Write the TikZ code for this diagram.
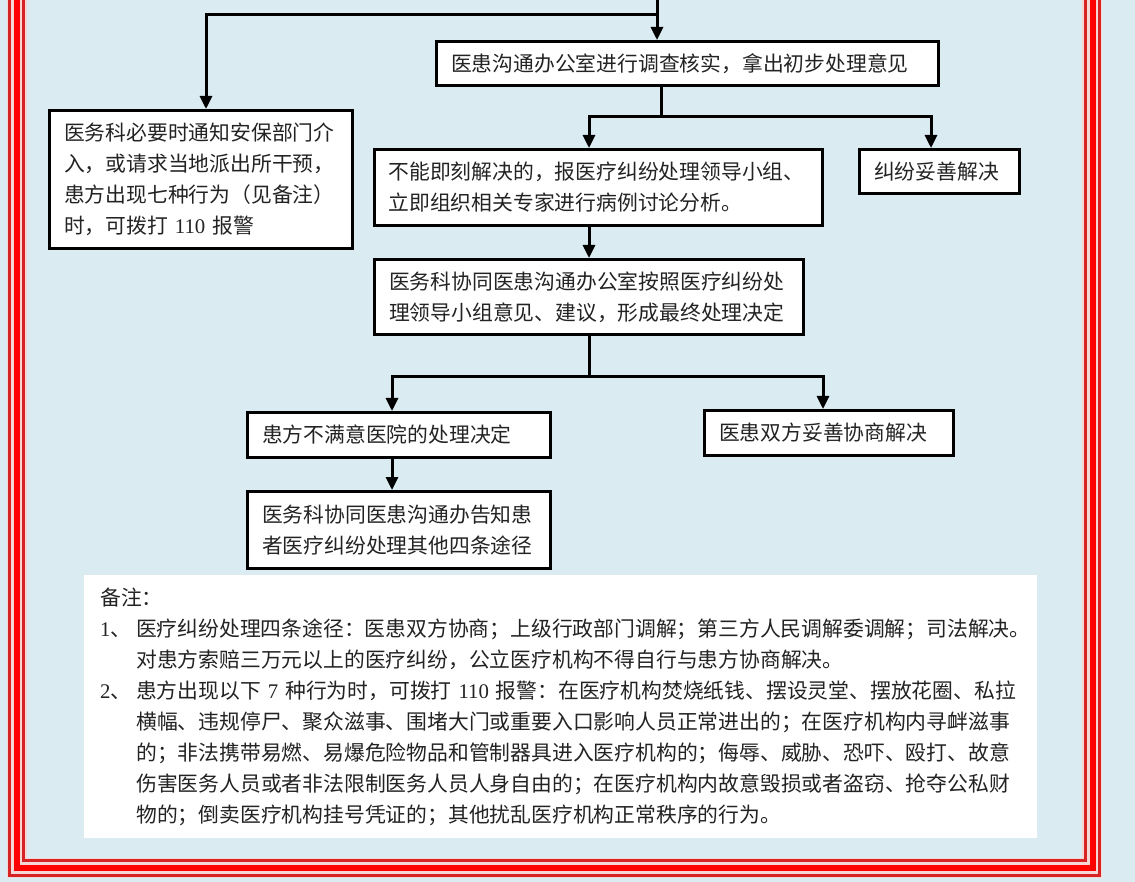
\documentclass[tikz,border=0pt]{standalone}
\usepackage{fontspec}
\setmainfont{Noto Sans CJK SC}
\newfontfamily\lat{Liberation Serif}
\usetikzlibrary{arrows.meta}
\definecolor{sky}{RGB}{218,235,242}
\definecolor{framered}{RGB}{214,36,36}
\definecolor{framepink}{RGB}{247,214,214}
\definecolor{ink}{RGB}{35,35,35}
\newcommand{\digits}[1]{{\lat #1}}
\tikzstyle{block} = [align=left,draw=black,line width=3pt,rectangle,fill=white,text=ink,inner xsep=14.5pt,inner ysep=0pt,font=\fontsize{20.8}{31}\selectfont]
\tikzstyle{note} = [align=left,fill=white,text=ink,inner xsep=16pt,inner ysep=0pt,font=\fontsize{20.8}{31}\selectfont]
\tikzstyle{link} = [line width=3pt,-{Triangle[length=13pt,width=12pt]}]
\tikzstyle{wire} = [line width=3pt]

\begin{document}
\begin{tikzpicture}[x=1pt,y=-1pt]
				\useasboundingbox (0,0) rectangle (1135,882);
				\fill [sky] (0,0) rectangle (1135,882);
				% frame
				\draw [framepink, line width=20pt] (16.5,0) |- (1092,867.5) -- (1092,0);
				\draw [framered, line width=3pt] (9.5,0) |- (1099.5,875.5) -- (1099.5,0);
				\draw [red, line width=6pt] (17,0) |- (1093,867.5) -- (1093,0);
				\draw [framered, line width=3pt] (23.5,0) |- (1085,860.5) -- (1085,0);
				% boxes
				\node (check) [block, text width=473pt, minimum height=44pt] at (687.5,63.5) {医患沟通办公室进行调查核实，拿出初步处理意见};
				\node (police) [block, text width=274pt, minimum height=138pt] at (201,179.5) {医务科必要时通知安保部门介\\入，或请求当地派出所干预，\\患方出现七种行为（见备注）\\时，可拨打 \digits{110} 报警};
				\node (expert) [block, text width=419pt, minimum height=76pt] at (598,187.5) {不能即刻解决的，报医疗纠纷处理领导小组、\\立即组织相关专家进行病例讨论分析。};
				\node (solved) [block, text width=131pt, minimum height=44pt] at (939.5,171.5) {纠纷妥善解决};
				\node (decide) [block, text width=400pt, minimum height=75pt] at (589,297) {医务科协同医患沟通办公室按照医疗纠纷处\\理领导小组意见、建议，形成最终处理决定};
				\node (unhappy) [block, text width=274pt, minimum height=45pt] at (399,435) {患方不满意医院的处理决定};
				\node (agree) [block, text width=220pt, minimum height=45pt] at (829,433) {医患双方妥善协商解决};
				\node (inform) [block, text width=274pt, minimum height=77pt] at (399,530) {医务科协同医患沟通办告知患\\者医疗纠纷处理其他四条途径};
				\node (remark) [note, anchor=north west, text width=921pt, minimum height=263pt] at (84,575) {备注：\\
					\makebox[36pt][l]{\digits{1}、}医疗纠纷处理四条途径：医患双方协商；上级行政部门调解；第三方人民调解委调解；司法解决。\\
					\hspace*{36pt}对患方索赔三万元以上的医疗纠纷，公立医疗机构不得自行与患方协商解决。\\
					\makebox[36pt][l]{\digits{2}、}患方出现以下 \digits{7} 种行为时，可拨打 \digits{110} 报警：在医疗机构焚烧纸钱、摆设灵堂、摆放花圈、私拉\\
					\hspace*{36pt}横幅、违规停尸、聚众滋事、围堵大门或重要入口影响人员正常进出的；在医疗机构内寻衅滋事\\
					\hspace*{36pt}的；非法携带易燃、易爆危险物品和管制器具进入医疗机构的；侮辱、威胁、恐吓、殴打、故意\\
					\hspace*{36pt}伤害医务人员或者非法限制医务人员人身自由的；在医疗机构内故意毁损或者盗窃、抢夺公私财\\
					\hspace*{36pt}物的；倒卖医疗机构挂号凭证的；其他扰乱医疗机构正常秩序的行为。};
				% connectors
				\coordinate (top) at (657,0);
				\coordinate (fork) at (657,15);
				\coordinate (split1) at (661,117);
				\coordinate (split2) at (589,377);
				\draw [link] (top) -- (top |- check.north);
				\draw [link] (fork) -| ([xshift=5pt]police.north);
				\draw [wire] (check.south -| split1) -- (split1);
				\draw [link] (split1) -| ([xshift=-9pt]expert.north);
				\draw [link] (split1) -| ([xshift=-8.5pt]solved.north);
				\draw [link] (expert.south -| decide.north) -- (decide.north);
				\draw [wire] (decide.south) -- (split2);
				\draw [link] (split2) -| ([xshift=-7pt]unhappy.north);
				\draw [link] (split2) -| ([xshift=-6pt]agree.north);
				\draw [link] ([xshift=-7pt]unhappy.south) -- ([xshift=-7pt]inform.north);
			\end{tikzpicture}
\end{document}
